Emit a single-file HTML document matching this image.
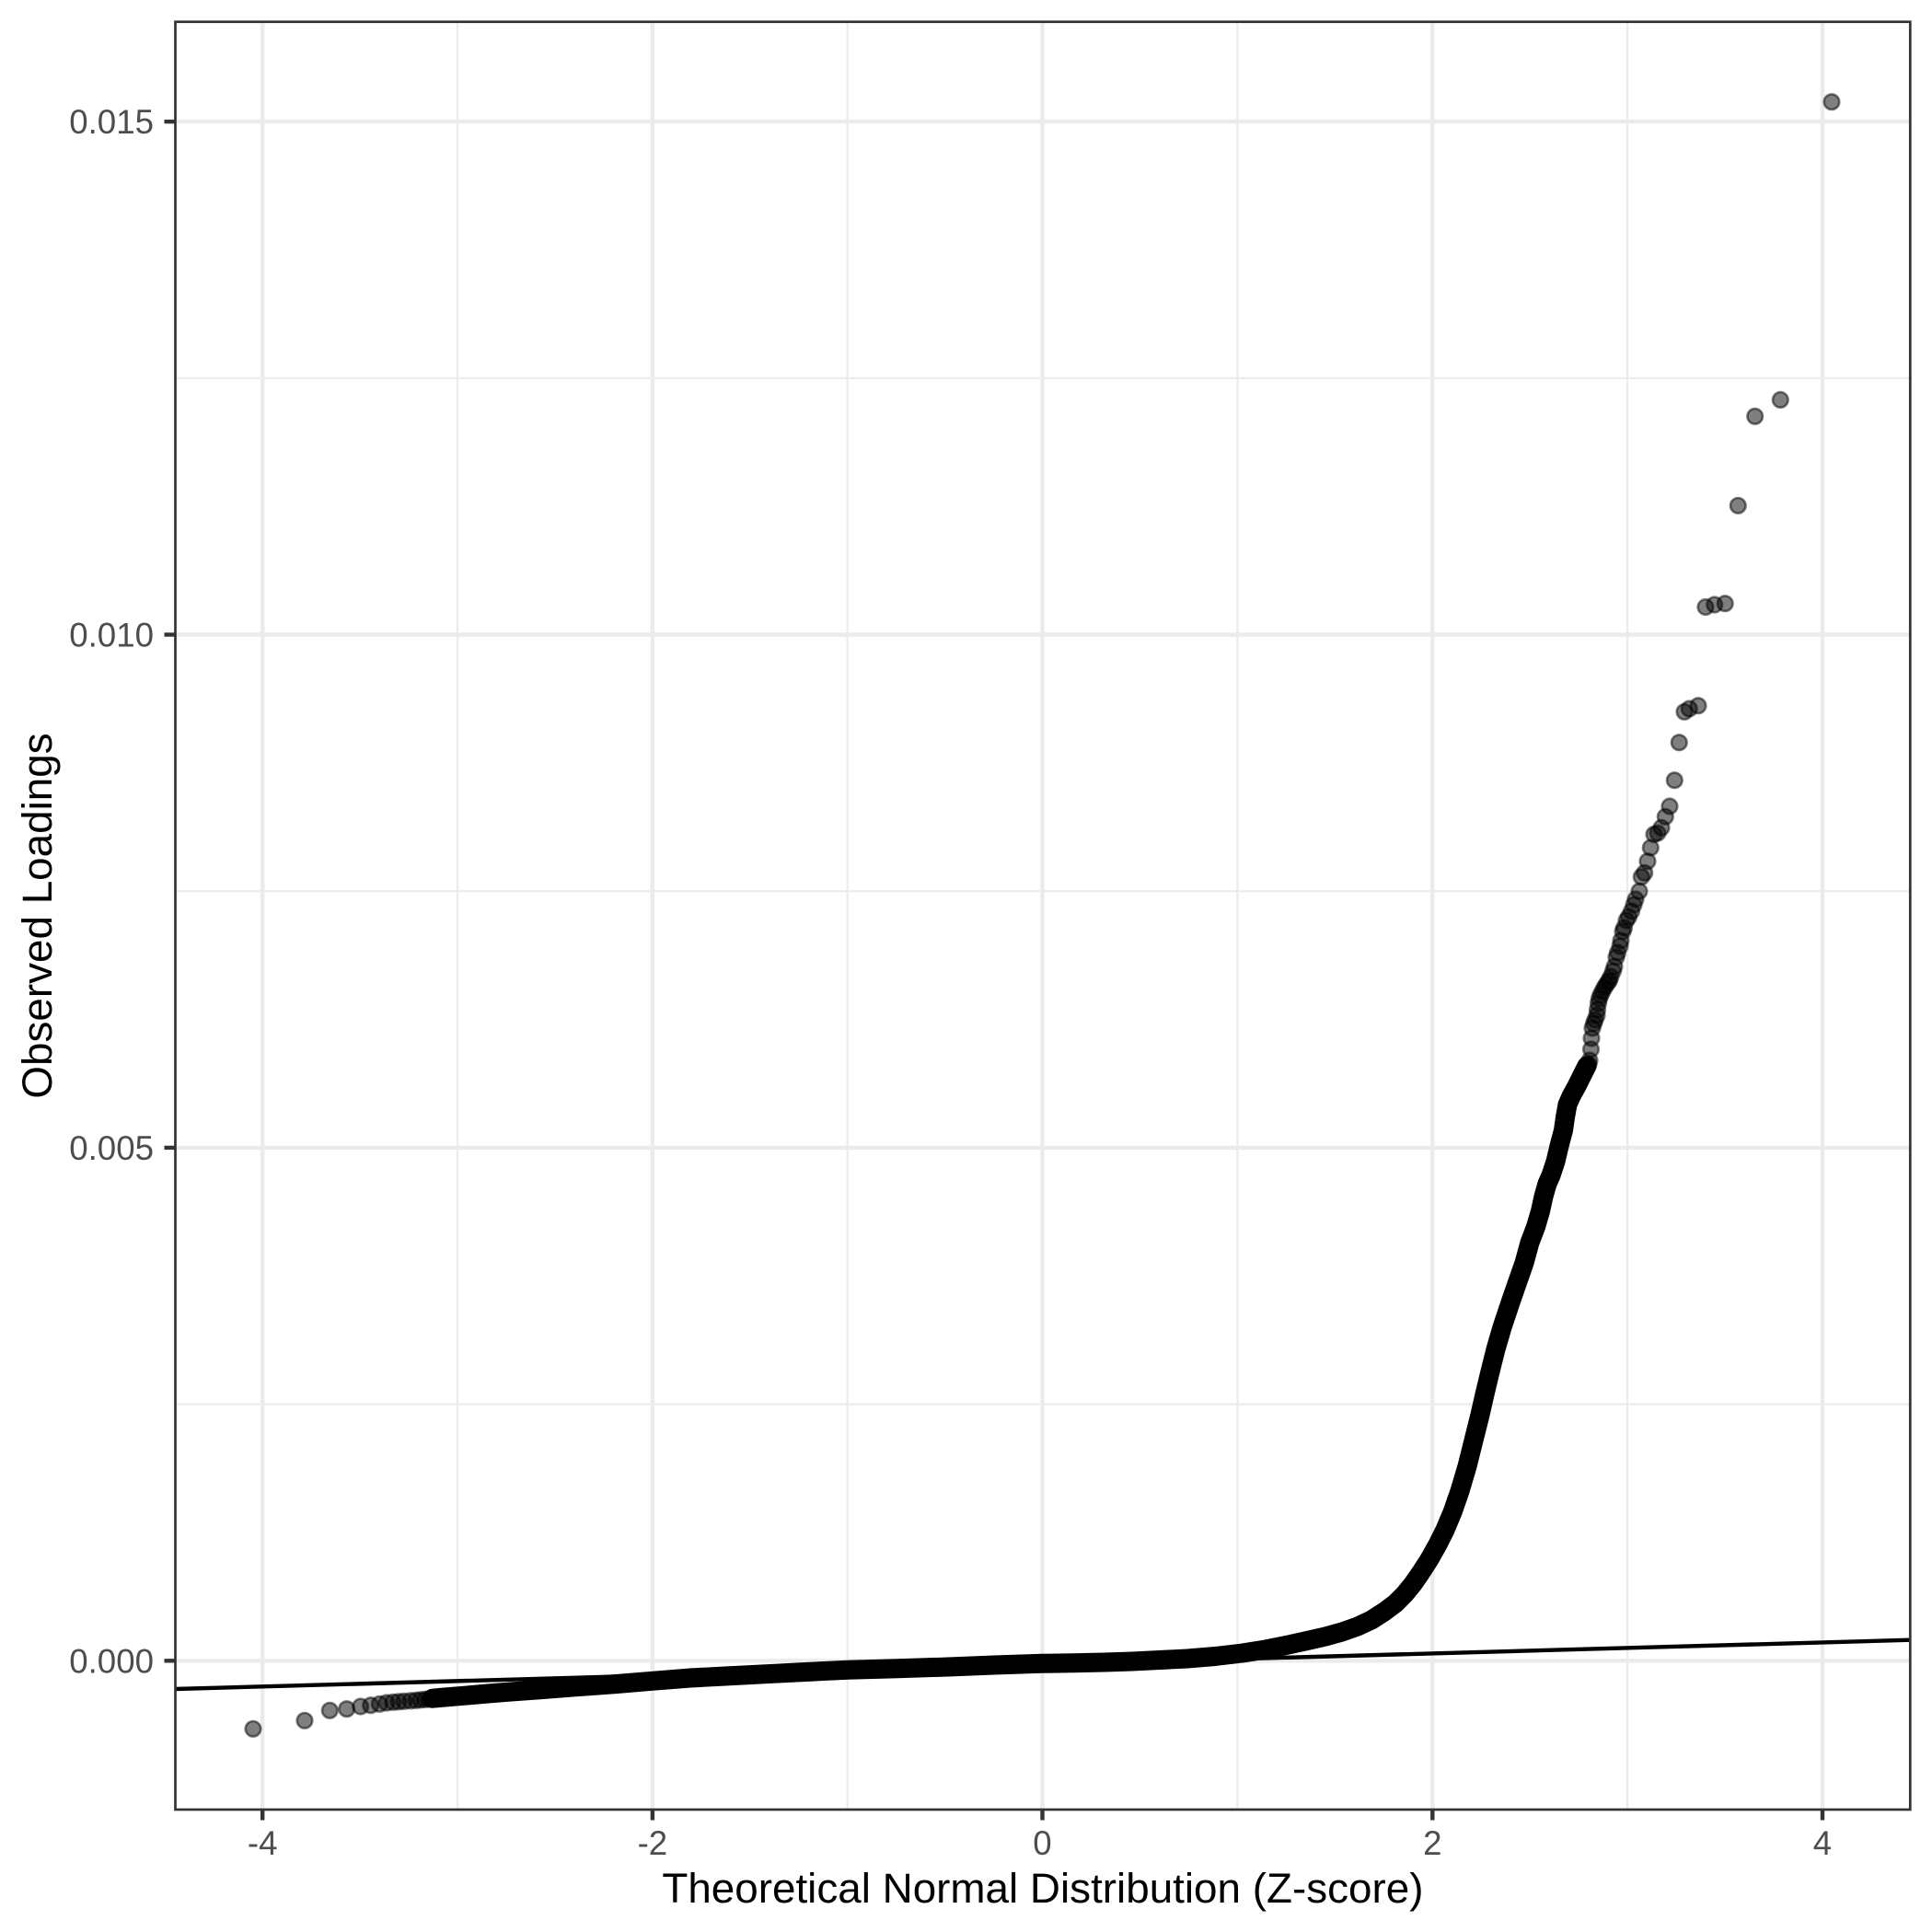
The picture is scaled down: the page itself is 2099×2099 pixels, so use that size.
<!DOCTYPE html>
<html>
<head>
<meta charset="utf-8">
<style>
  html, body { margin: 0; padding: 0; background: #ffffff; }
  svg { display: block; }
  text { font-family: "Liberation Sans", Arial, Helvetica, sans-serif; }
</style>
</head>
<body>
<svg xmlns="http://www.w3.org/2000/svg" width="2099" height="2099" viewBox="0 0 2099 2099">
  <defs>
    <clipPath id="panel">
      <rect x="190.5" y="23.7" width="1884.8" height="1942.3"/>
    </clipPath>
  </defs>
  <rect x="0" y="0" width="2099" height="2099" fill="#ffffff"/>

  <g stroke="#EBEBEB" stroke-width="2.2" fill="none">
    <line x1="190.5" y1="1525.6" x2="2075.3" y2="1525.6"/>
    <line x1="190.5" y1="968.2" x2="2075.3" y2="968.2"/>
    <line x1="190.5" y1="410.8" x2="2075.3" y2="410.8"/>
    <line x1="497.1" y1="23.7" x2="497.1" y2="1966"/>
    <line x1="920.6" y1="23.7" x2="920.6" y2="1966"/>
    <line x1="1344.4" y1="23.7" x2="1344.4" y2="1966"/>
    <line x1="1768.1" y1="23.7" x2="1768.1" y2="1966"/>
  </g>
  <g stroke="#EBEBEB" stroke-width="4.4" fill="none">
    <line x1="190.5" y1="1804.3" x2="2075.3" y2="1804.3"/>
    <line x1="190.5" y1="1246.9" x2="2075.3" y2="1246.9"/>
    <line x1="190.5" y1="689.5" x2="2075.3" y2="689.5"/>
    <line x1="190.5" y1="132.1" x2="2075.3" y2="132.1"/>
    <line x1="285.2" y1="23.7" x2="285.2" y2="1966"/>
    <line x1="708.9" y1="23.7" x2="708.9" y2="1966"/>
    <line x1="1132.5" y1="23.7" x2="1132.5" y2="1966"/>
    <line x1="1556.3" y1="23.7" x2="1556.3" y2="1966"/>
    <line x1="1980.0" y1="23.7" x2="1980.0" y2="1966"/>
  </g>

  <g clip-path="url(#panel)">
    <polyline fill="none" stroke="#000000" stroke-width="21" stroke-linejoin="round" stroke-linecap="round"
      points="1724,1158 1719,1168 1713,1180 1707,1191 1703,1200 1700.5,1214 1698.5,1228 1694,1245 1690,1262 1685,1277 1681,1286 1677,1300 1673.5,1316 1668.5,1333 1662,1350 1656,1372 1649,1392 1641,1415 1632,1442 1625,1466 1619,1490 1613,1515 1608,1537 1601,1565 1594,1593 1586,1620 1578,1643 1570,1662 1562,1678 1553,1694 1544,1708 1535,1721 1526,1732 1516,1742 1504,1751 1490,1760 1475,1767 1458,1773 1440,1778 1418,1783 1395,1788 1372,1792.5 1350,1796 1320,1799.5 1290,1802 1260,1803.5 1230,1805 1200,1806 1166,1806.8 1132,1807.3 1080,1809 1030,1811 975,1812.8 921,1814.3 880,1816.2 840,1818.3 795,1820.6 750,1823 710,1826.2 670,1829.5 625,1832.8 583,1836 555,1838 530,1840 505,1842.2 483,1844 470,1845.2"/>

    <g fill="#000000" fill-opacity="0.5" stroke="#000000" stroke-opacity="0.5" stroke-width="2.6">
      <circle cx="275" cy="1878.3" r="8.3"/>
      <circle cx="331" cy="1869.3" r="8.3"/>
      <circle cx="358.3" cy="1858.3" r="8.3"/>
      <circle cx="376.7" cy="1856.7" r="8.3"/>
      <circle cx="391.7" cy="1854" r="8.3"/>
      <circle cx="402.7" cy="1852.7" r="8.3"/>
      <circle cx="412.3" cy="1851.3" r="8.3"/>
      <circle cx="420" cy="1850" r="8.3"/>
      <circle cx="427" cy="1849.3" r="8.3"/>
      <circle cx="433" cy="1848.8" r="8.3"/>
      <circle cx="439" cy="1848.3" r="8.3"/>
      <circle cx="446" cy="1847.8" r="8.3"/>
      <circle cx="452" cy="1847.3" r="8.3"/>
      <circle cx="457" cy="1846.8" r="8.3"/>
      <circle cx="462" cy="1846.3" r="8.3"/>
      <circle cx="466" cy="1846" r="8.3"/>

      <circle cx="1990" cy="110.7" r="8.3"/>
      <circle cx="1934.3" cy="434.4" r="8.3"/>
      <circle cx="1906.7" cy="452.3" r="8.3"/>
      <circle cx="1888.3" cy="549.3" r="8.3"/>
      <circle cx="1874.2" cy="655.7" r="8.3"/>
      <circle cx="1862.7" cy="657" r="8.3"/>
      <circle cx="1853" cy="659.5" r="8.3"/>
      <circle cx="1845" cy="766.7" r="8.3"/>
      <circle cx="1835.3" cy="770" r="8.3"/>
      <circle cx="1830" cy="773.3" r="8.3"/>
      <circle cx="1824.3" cy="806.7" r="8.3"/>
      <circle cx="1819.3" cy="847.7" r="8.3"/>
      <circle cx="1814" cy="876" r="8.3"/>
      <circle cx="1809.3" cy="887.3" r="8.3"/>
      <circle cx="1805" cy="899.3" r="8.3"/>
      <circle cx="1801" cy="905" r="8.3"/>
      <circle cx="1797" cy="906.5" r="8.3"/>
      <circle cx="1793.3" cy="921" r="8.3"/>
      <circle cx="1790" cy="935.7" r="8.3"/>
      <circle cx="1786.7" cy="948.3" r="8.3"/>
      <circle cx="1783.3" cy="952.7" r="8.3"/>
      <circle cx="1781" cy="968.3" r="8.3"/>
      <circle cx="1777" cy="977" r="8.3"/>
      <circle cx="1775" cy="983" r="8.3"/>
      <circle cx="1772.5" cy="990" r="8.3"/>
      <circle cx="1769.5" cy="996" r="8.3"/>
      <circle cx="1767" cy="1000" r="8.3"/>
      <circle cx="1764.5" cy="1008" r="8.3"/>
      <circle cx="1763" cy="1012" r="8.3"/>
      <circle cx="1761" cy="1022" r="8.3"/>
      <circle cx="1760" cy="1028" r="8.3"/>
      <circle cx="1757.5" cy="1035" r="8.3"/>
      <circle cx="1756" cy="1040" r="8.3"/>
      <circle cx="1754" cy="1050" r="8.3"/>
      <circle cx="1752.5" cy="1055" r="8.3"/>
      <circle cx="1750" cy="1061" r="8.3"/>
      <circle cx="1748.5" cy="1065" r="8.3"/>
      <circle cx="1747" cy="1067" r="8.3"/>
      <circle cx="1745" cy="1070" r="8.3"/>
      <circle cx="1743" cy="1073" r="8.3"/>
      <circle cx="1741" cy="1077" r="8.3"/>
      <circle cx="1739" cy="1081" r="8.3"/>
      <circle cx="1737.5" cy="1085" r="8.3"/>
      <circle cx="1736.5" cy="1090" r="8.3"/>
      <circle cx="1735.5" cy="1097" r="8.3"/>
      <circle cx="1735" cy="1103" r="8.3"/>
      <circle cx="1733" cy="1108" r="8.3"/>
      <circle cx="1731.5" cy="1112" r="8.3"/>
      <circle cx="1730" cy="1117" r="8.3"/>
      <circle cx="1729" cy="1128" r="8.3"/>
      <circle cx="1728.5" cy="1140" r="8.3"/>
      <circle cx="1727" cy="1152" r="8.3"/>
      <circle cx="1726" cy="1156" r="8.3"/>
      <circle cx="1701" cy="1207" r="8.3"/>
      <circle cx="1699.5" cy="1218" r="8.3"/>
    </g>

    <line x1="190.5" y1="1835.0" x2="2075.3" y2="1781.7" stroke="#000000" stroke-width="4.4"/>
  </g>

  <rect x="190.5" y="23.7" width="1884.8" height="1942.3" fill="none" stroke="#333333" stroke-width="2.7"/>

  <g stroke="#333333" stroke-width="4.4">
    <line x1="178.5" y1="1804.3" x2="190.5" y2="1804.3"/>
    <line x1="178.5" y1="1246.9" x2="190.5" y2="1246.9"/>
    <line x1="178.5" y1="689.5" x2="190.5" y2="689.5"/>
    <line x1="178.5" y1="132.1" x2="190.5" y2="132.1"/>
    <line x1="285.2" y1="1966" x2="285.2" y2="1977.5"/>
    <line x1="708.9" y1="1966" x2="708.9" y2="1977.5"/>
    <line x1="1132.5" y1="1966" x2="1132.5" y2="1977.5"/>
    <line x1="1556.3" y1="1966" x2="1556.3" y2="1977.5"/>
    <line x1="1980.0" y1="1966" x2="1980.0" y2="1977.5"/>
  </g>

  <g fill="#4D4D4D" font-size="36.7" text-anchor="end">
    <text x="167" y="1817.3">0.000</text>
    <text x="167" y="1259.9">0.005</text>
    <text x="167" y="702.5">0.010</text>
    <text x="167" y="145.1">0.015</text>
  </g>
  <g fill="#4D4D4D" font-size="36.7" text-anchor="middle">
    <text x="285.2" y="2015">-4</text>
    <text x="708.9" y="2015">-2</text>
    <text x="1132.5" y="2015">0</text>
    <text x="1556.3" y="2015">2</text>
    <text x="1980.0" y="2015">4</text>
  </g>

  <text x="1132.9" y="2067" font-size="45.8" fill="#000000" text-anchor="middle">Theoretical Normal Distribution (Z-score)</text>
  <text x="0" y="0" font-size="45.8" fill="#000000" text-anchor="middle" transform="translate(56,995) rotate(-90)">Observed Loadings</text>
</svg>
</body>
</html>
